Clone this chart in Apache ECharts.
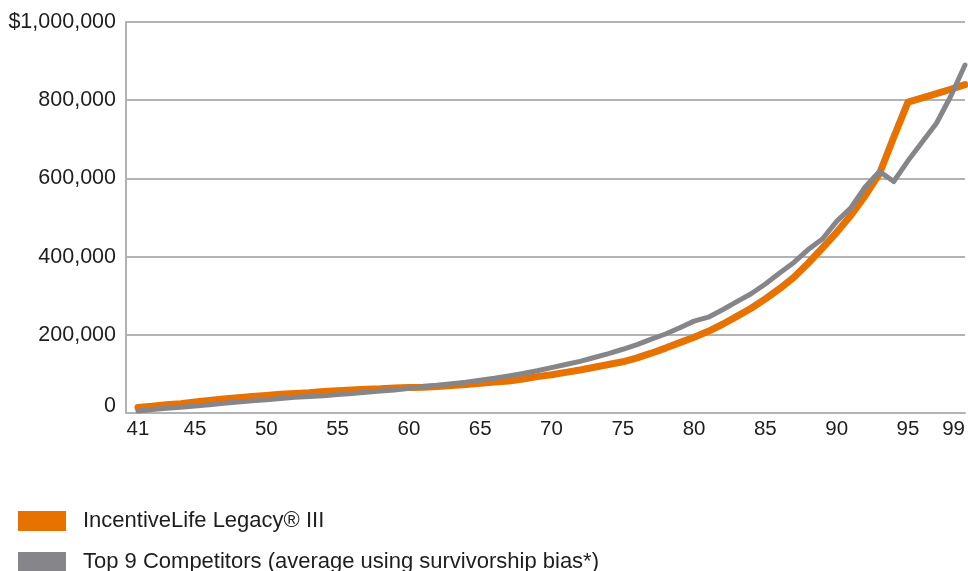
<!DOCTYPE html>
<html>
<head>
<meta charset="utf-8">
<script src="https://cdn.jsdelivr.net/npm/echarts@6/dist/echarts.min.js"></script>
<style>
html,body{margin:0;padding:0;background:#fff;}
#chart{width:968px;height:571px;}
</style>
</head>
<body>
<div id="chart"></div>
<script>
var ages = [];
for (var a = 41; a <= 99; a++) ages.push(a);

var incentiveLife = [
  14000, 17000, 21000, 24000, 28000, 32000, 36000, 39000, 42000, 45000,
  48000, 50000, 52000, 55000, 57000, 59000, 61000, 62000, 64000, 65000,
  66000, 68000, 70000, 73000, 76000, 79000, 82000, 87000, 93000, 98000,
  104000, 110000, 117000, 124000, 131000, 141000, 153000, 166000, 180000, 194000,
  209000, 227000, 247000, 268000, 292000, 318000, 347000, 383000, 422000, 462000,
  506000, 556000, 612000, 705000, 795000, 806000, 817000, 828000, 840000
];

var competitors = [
  5000, 9000, 12000, 15000, 18000, 21000, 25000, 28000, 31000, 34000,
  37000, 40000, 42000, 44000, 47000, 50000, 53000, 56000, 59000, 63000,
  67000, 71000, 75000, 79000, 84000, 89000, 95000, 101000, 108000, 116000,
  124000, 132000, 142000, 152000, 163000, 175000, 189000, 202000, 218000, 235000,
  245000, 264000, 285000, 305000, 330000, 358000, 385000, 418000, 445000, 490000,
  525000, 578000, 618000, 592000, 645000, 693000, 741000, 810000, 890000
];

var xTickLabels = [41, 45, 50, 55, 60, 65, 70, 75, 80, 85, 90, 95, 99];
var yTicks = [0, 200000, 400000, 600000, 800000, 1000000];

var seriesNames = ['IncentiveLife Legacy\u00AE III', 'Top 9 Competitors (average using survivorship bias*)'];

function pairs(xs, ys) {
  return xs.map(function (x, i) { return [x, ys[i]]; });
}

function fmt(v) {
  var s = String(v).replace(/\B(?=(\d{3})+(?!\d))/g, ',');
  return v === 1000000 ? '$' + s : s;
}

var chart = echarts.init(document.getElementById('chart'), null, {renderer: 'canvas'});
var gridColor = '#b3b3b7';
var textColor = '#1e1e1e';
var font = 'Liberation Sans, Arial, sans-serif';

function legendFor(i, top) {
  return {
    orient: 'vertical',
    left: 13,
    top: top,
    itemWidth: 48,
    itemHeight: 20,
    icon: 'rect',
    selectedMode: false,
    textStyle: {color: textColor, fontFamily: font, fontSize: 22, padding: [0, 0, 0, 12]},
    data: [seriesNames[i]]
  };
}

chart.setOption({
  animation: false,
  backgroundColor: '#ffffff',
  grid: {left: 126, right: 3, top: 22, bottom: 158, containLabel: false, outerBoundsMode: 'none'},
  xAxis: {
    type: 'value',
    min: 40.16,
    max: 99,
    axisLine: {show: true, lineStyle: {color: gridColor, width: 2}},
    axisTick: {show: false},
    splitLine: {show: false},
    axisLabel: {
      customValues: xTickLabels,
      color: textColor,
      fontFamily: font,
      fontSize: 20.5,
      margin: 6,
      alignMaxLabel: 'right',
      showMinLabel: true,
      showMaxLabel: true,
      hideOverlap: false
    }
  },
  yAxis: {
    type: 'value',
    min: 0,
    max: 1000000,
    interval: 200000,
    axisLine: {show: true, lineStyle: {color: gridColor, width: 2}},
    axisTick: {show: false},
    splitLine: {show: true, lineStyle: {color: gridColor, width: 2}},
    axisLabel: {
      color: textColor,
      fontFamily: font,
      fontSize: 21.5,
      margin: 10,
      formatter: function (v) { return v === 0 ? '{zero|0}' : fmt(v); },
      rich: {zero: {fontFamily: font, fontSize: 21.5, color: textColor, padding: [0, 0, 14, 0]}}
    }
  },
  legend: [legendFor(0, 505), legendFor(1, 546)],
  series: [
    {
      name: seriesNames[0],
      type: 'line',
      data: pairs(ages, incentiveLife),
      showSymbol: false,
      symbol: 'none',
      itemStyle: {color: '#e87200'},
      lineStyle: {color: '#e87200', width: 7, cap: 'round', join: 'round'},
      z: 2
    },
    {
      name: seriesNames[1],
      type: 'line',
      data: pairs(ages, competitors),
      showSymbol: false,
      symbol: 'none',
      itemStyle: {color: '#86868a'},
      lineStyle: {color: '#86868a', width: 5, cap: 'round', join: 'round'},
      z: 3
    }
  ]
});
</script>
</body>
</html>
